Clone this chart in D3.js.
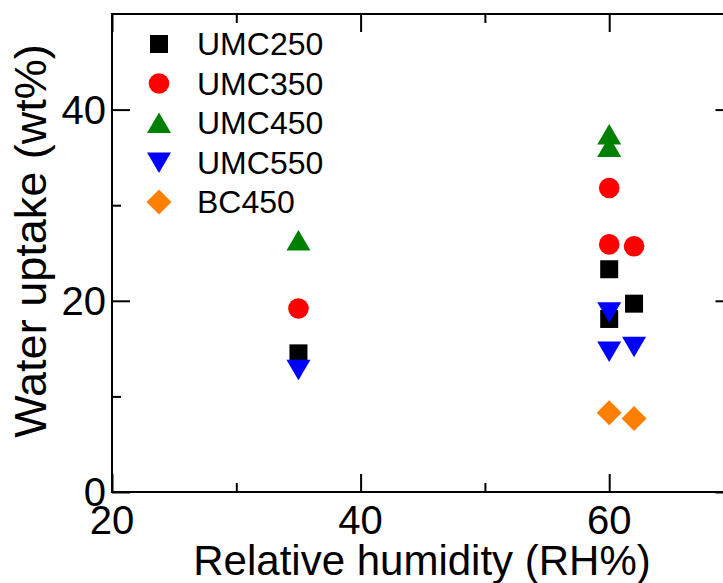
<!DOCTYPE html>
<html>
<head>
<meta charset="utf-8">
<script src="https://cdn.jsdelivr.net/npm/d3@7"></script>
<style>
  html, body { margin: 0; padding: 0; background: #fff; }
  svg { display: block; font-family: "Liberation Sans", Arial, Helvetica, sans-serif; }
</style>
</head>
<body>
<svg id="chart" width="723" height="583"></svg>
<script>
// ---- data ----
const seriesNames = ["UMC250", "UMC350", "UMC450", "UMC550", "BC450"];
const seriesColors = ["#000000", "#ff0000", "#008000", "#0000ff", "#ff8000"];
const seriesShapes = ["square", "circle", "triangleUp", "triangleDown", "diamond"];

const umc250X = [35, 60, 60, 62];
const umc250Y = [14.5, 23.3, 18.1, 19.7];
const umc350X = [35, 60, 60, 62];
const umc350Y = [19.2, 31.8, 25.9, 25.7];
const umc450X = [35, 60, 60];
const umc450Y = [26.3, 37.4, 36.1];
const umc550X = [35, 60, 60, 62];
const umc550Y = [12.8, 18.8, 14.7, 15.2];
const bc450X = [60, 62];
const bc450Y = [8.3, 7.7];

const xMajorTicks = [20, 40, 60];
const xMinorTicks = [30, 50];
const yMajorTicks = [0, 20, 40];
const yMinorTicks = [10, 30];

const xLabel = "Relative humidity (RH%)";
const yLabel = "Water uptake (wt%)";

// ---- layout ----
const svg = d3.select("#chart");
const pL = 112, pR = 733.5, pT = 14, pB = 492;
const x = d3.scaleLinear().domain([20, 70]).range([pL, pR]);
const y = d3.scaleLinear().domain([0, 50]).range([pB, pT]);

const allSeries = [
  { xs: umc250X, ys: umc250Y },
  { xs: umc350X, ys: umc350Y },
  { xs: umc450X, ys: umc450Y },
  { xs: umc550X, ys: umc550Y },
  { xs: bc450X, ys: bc450Y }
].map((s, i) => ({
  name: seriesNames[i], color: seriesColors[i], shape: seriesShapes[i],
  points: s.xs.map((v, j) => ({ x: v, y: s.ys[j] }))
}));

function shapePath(shape) {
  switch (shape) {
    case "square": return "M-9,-9H9V9H-9Z";
    case "circle": return "M10.3,0A10.3,10.3 0 1,1 -10.3,0A10.3,10.3 0 1,1 10.3,0Z";
    case "triangleUp": return "M0,-10.5L12,10L-12,10Z";
    case "triangleDown": return "M0,10.5L12,-10L-12,-10Z";
    case "diamond": return "M0,-12.5L12.5,0L0,12.5L-12.5,0Z";
  }
}

const MAJOR = 18, MINOR = 9, SW = 2;

// axes (ticks inward on all four sides)
const gAx = svg.append("g");
function place(axis, tx, ty) {
  const g = gAx.append("g").attr("transform", `translate(${tx},${ty})`).call(axis);
  g.select(".domain").remove();
  g.selectAll("line").attr("stroke", "#000").attr("stroke-width", SW);
}
place(d3.axisTop(x).tickValues(xMajorTicks).tickSize(MAJOR).tickFormat(""), 0, pB);
place(d3.axisTop(x).tickValues(xMinorTicks).tickSize(MINOR).tickFormat(""), 0, pB);
place(d3.axisBottom(x).tickValues(xMajorTicks).tickSize(MAJOR).tickFormat(""), 0, pT);
place(d3.axisBottom(x).tickValues(xMinorTicks).tickSize(MINOR).tickFormat(""), 0, pT);
place(d3.axisRight(y).tickValues(yMajorTicks).tickSize(MAJOR).tickFormat(""), pL, 0);
place(d3.axisRight(y).tickValues(yMinorTicks).tickSize(MINOR).tickFormat(""), pL, 0);
place(d3.axisLeft(y).tickValues(yMajorTicks).tickSize(MAJOR).tickFormat(""), pR, 0);
place(d3.axisLeft(y).tickValues(yMinorTicks).tickSize(MINOR).tickFormat(""), pR, 0);

gAx.append("rect")
  .attr("x", pL).attr("y", pT)
  .attr("width", pR - pL).attr("height", pB - pT)
  .attr("fill", "none").attr("stroke", "#000").attr("stroke-width", SW);

// tick labels
svg.append("g").selectAll("text").data(xMajorTicks).join("text")
  .attr("x", d => x(d)).attr("y", pB + 42)
  .attr("text-anchor", "middle").attr("font-size", 40).attr("fill", "#000")
  .text(d => d);
svg.append("g").selectAll("text").data(yMajorTicks).join("text")
  .attr("x", pL - 6).attr("y", d => y(d) + 14)
  .attr("text-anchor", "end").attr("font-size", 40).attr("fill", "#000")
  .text(d => d);

// axis titles
svg.append("text")
  .attr("x", 422).attr("y", 575)
  .attr("text-anchor", "middle").attr("font-size", 42).attr("fill", "#000")
  .text(xLabel);
svg.append("text")
  .attr("transform", "translate(46,241) rotate(-90)")
  .attr("text-anchor", "middle").attr("font-size", 45).attr("fill", "#000")
  .text(yLabel);

// data markers
const gData = svg.append("g");
allSeries.forEach(s => {
  gData.append("g").selectAll("path").data(s.points).join("path")
    .attr("transform", d => `translate(${x(d.x)},${y(d.y)})`)
    .attr("d", shapePath(s.shape))
    .attr("fill", s.color);
});

// legend
const legend = svg.append("g");
const legRows = legend.selectAll("g").data(allSeries).join("g")
  .attr("transform", (d, i) => `translate(159,${44 + i * 39.5})`);
legRows.append("path").attr("d", d => shapePath(d.shape)).attr("fill", d => d.color);
legRows.append("text")
  .attr("x", 38).attr("y", 11)
  .attr("font-size", 32).attr("fill", "#000")
  .text(d => d.name);
</script>
</body>
</html>
